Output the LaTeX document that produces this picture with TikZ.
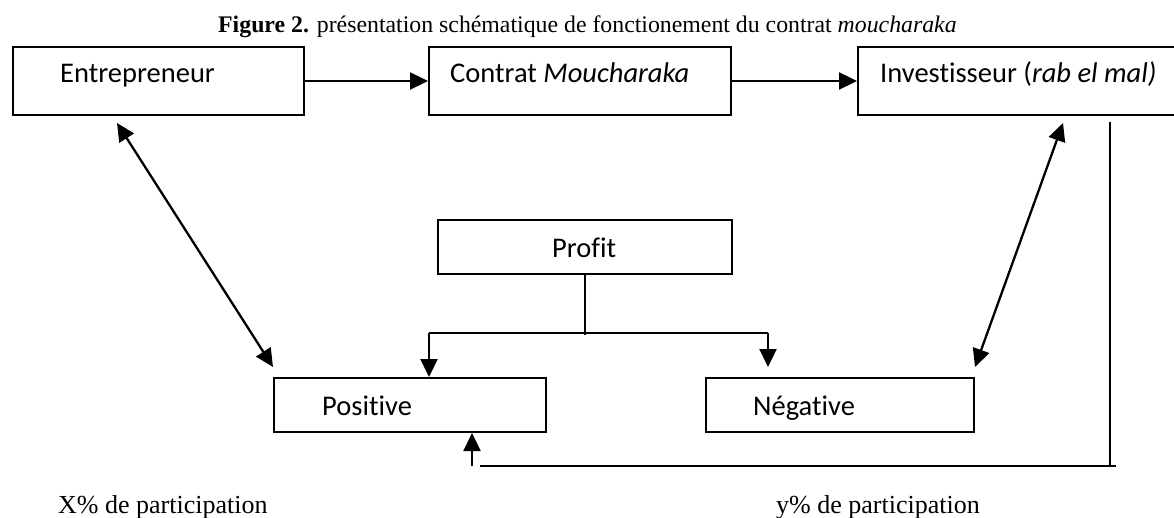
\documentclass[tikz,border=0pt]{standalone}
\usepackage{fontspec}
\setmainfont{Liberation Serif}
\newfontfamily\calibrifont[Ligatures={NoCommon}]{Carlito}
\usetikzlibrary{arrows.meta,calc}
\begin{document}
\begin{tikzpicture}[x=1pt,y=-1pt,
  box/.style={draw, line width=2pt, rectangle, inner sep=0pt, anchor=north west, minimum height=68pt},
  lowbox/.style={box, minimum height=54pt},
  boxtext/.style={anchor=base west, inner sep=0pt, font=\calibrifont\fontsize{28.5}{32}\selectfont},
  captext/.style={anchor=base west, inner sep=0pt, font=\fontsize{26}{30}\selectfont},
  conn/.style={line width=2.3pt},
  thin/.style={line width=1.6pt},
  tipend/.style={-{Triangle[length=18pt,width=17pt]}},
  tipboth/.style={{Triangle[length=18pt,width=17pt]}-{Triangle[length=18pt,width=17pt]}}]
\useasboundingbox (0,0) rectangle (1174,518);
\clip (0,0) rectangle (1174,518);
\fill[white] (0,0) rectangle (1174,518);

% title
\node[anchor=base west, inner sep=0pt, font=\fontsize{23.8}{28}\selectfont] (title) at (218,33)
  {\textbf{Figure 2.} présentation schématique de fonctionement du contrat \textit{moucharaka}};

% boxes
\node[box, minimum width=291pt] (entre) at (12,46) {};
\node[box, minimum width=302pt] (contrat) at (428,46) {};
\node[box, minimum width=330pt] (invest) at (857,46) {};
\node[lowbox, minimum width=294pt] (profit) at (437,219) {};
\node[lowbox, minimum width=272pt] (pos) at (273,377) {};
\node[lowbox, minimum width=268pt] (neg) at (705,377) {};

% box texts
\node[boxtext] (entreT) at ($(entre.north west)+(48,37)$) {Entrepreneur};
\node[boxtext] (contratT) at ($(contrat.north west)+(22,37)$) {Contrat \textit{Moucharaka}};
\node[boxtext] (investT) at ($(invest.north west)+(23,37)$) {Investisseur (\textit{rab el mal)}};
\node[boxtext] (profitT) at ($(profit.north west)+(115,39)$) {Profit};
\node[boxtext] (posT) at ($(pos.north west)+(49,38)$) {Positive};
\node[boxtext] (negT) at ($(neg.north west)+(48,38)$) {Négative};

% captions
\node[captext] (xpart) at (58,513) {X\% de participation};
\node[captext] (ypart) at (776,513) {y\% de participation};

% top arrows
\draw[conn, tipend] (entre.east) -- (contrat.west);
\draw[conn, tipend] (contrat.east) -- (invest.west);

% diagonal double arrows
\coordinate (e1) at ($(entre.south west)+(105,7)$);
\coordinate (p1) at ($(pos.north west)+(0,-10)$);
\draw[conn, tipboth] (e1) -- (p1);
\coordinate (i1) at ($(invest.south west)+(206,7)$);
\coordinate (n1) at ($(neg.north east)+(0,-10)$);
\draw[conn, tipboth] (i1) -- (n1);

% profit branching
\coordinate (br) at ($(profit.south)+(0,60)$);
\draw[thin] (profit.south) -- (br);
\coordinate (brL) at ($(pos.north west)+(156,-44)$);
\coordinate (brR) at ($(neg.north west)+(63,-44)$);
\draw[conn] (brL) -- (brR);
\draw[conn, tipend] (brL) -- (brL |- pos.north);
\coordinate (nR) at ($(neg.north west)+(63,-10)$);
\draw[conn, tipend] (brR) -- (nR);

% return line
\coordinate (r1) at ($(invest.south west)+(253,6)$);
\coordinate (r2) at (1110,466);
\coordinate (r3) at (1116,466);
\coordinate (r4) at (480,466);
\coordinate (r5) at (472,466);
\draw[thin] (r1) -- (r2);
\draw[conn] (r3) -- (r4);
\draw[conn, tipend] (r5) -- (r5 |- pos.south);
\end{tikzpicture}
\end{document}
